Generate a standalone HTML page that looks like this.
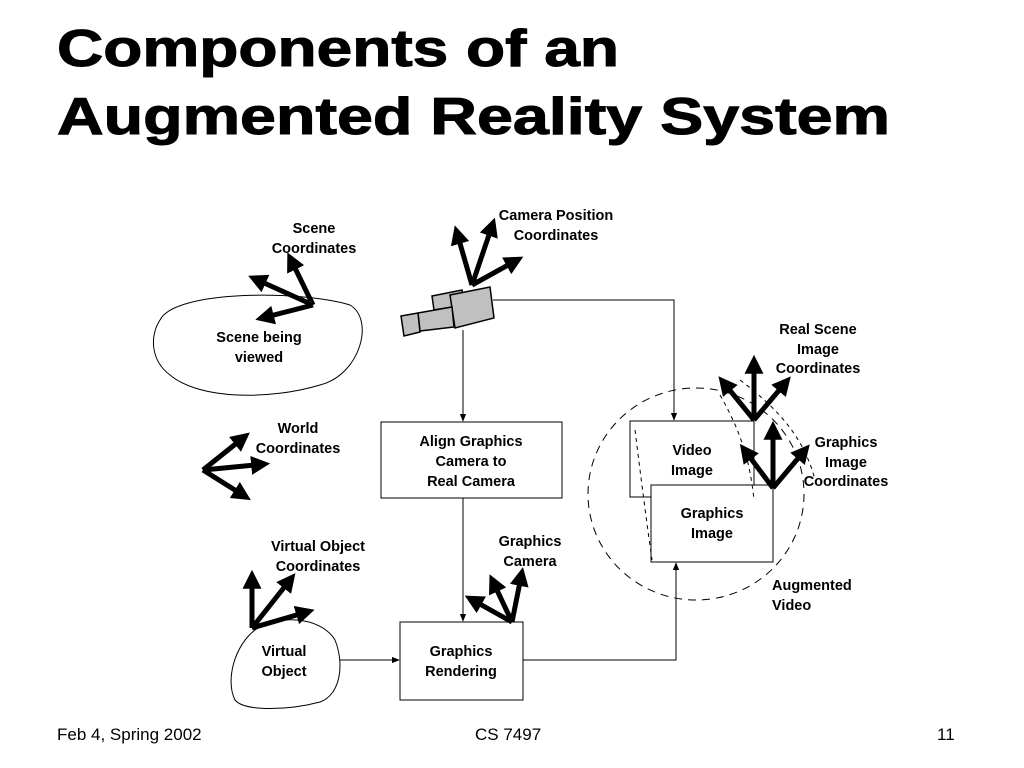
<!DOCTYPE html>
<html><head><style>
body{margin:0;background:#fff;width:1024px;height:768px;overflow:hidden}
svg{display:block}
.t{font-family:"Liberation Sans",Arial,sans-serif;font-weight:bold;font-size:14.5px;fill:#000;text-anchor:middle}
</style></head><body>
<svg width="1024" height="768" viewBox="0 0 1024 768" xmlns="http://www.w3.org/2000/svg">
<defs>
<marker id="h" viewBox="0 0 10 10" refX="2" refY="5" markerWidth="3.8" markerHeight="3.8" orient="auto" markerUnits="strokeWidth"><path d="M0,0 L10,5 L0,10z" fill="#000"/></marker>
<marker id="s" viewBox="0 0 10 10" refX="9" refY="5" markerWidth="8" markerHeight="8" orient="auto" markerUnits="userSpaceOnUse"><path d="M0,1 L10,5 L0,9z" fill="#000"/></marker>
</defs>
<text x="57" y="66" font-family="Liberation Sans,Arial,sans-serif" font-weight="bold" font-size="52" stroke="#000" stroke-width="1" textLength="562" lengthAdjust="spacingAndGlyphs">Components of an</text>
<text x="57" y="134" font-family="Liberation Sans,Arial,sans-serif" font-weight="bold" font-size="52" stroke="#000" stroke-width="1" textLength="833" lengthAdjust="spacingAndGlyphs">Augmented Reality System</text>

<g fill="none" stroke="#000" stroke-width="1">
<path d="M160,320 C175,290 300,290 350,305 C375,320 360,375 320,385 C270,400 200,400 170,375 C150,360 150,335 160,320Z"/>
<path d="M255,630 C275,615 320,615 335,640 C345,665 340,695 320,702 C290,710 245,712 235,700 C225,680 235,645 255,630Z"/>
<rect x="381" y="422" width="181" height="76"/>
<rect x="400" y="622" width="123" height="78"/>
<rect x="630" y="421" width="124" height="76" fill="#fff"/>
<rect x="651" y="485" width="122" height="77" fill="#fff"/>
<path d="M463,330 V421" marker-end="url(#s)"/>
<path d="M493,300 H674 V420" marker-end="url(#s)"/>
<path d="M463,498 V621" marker-end="url(#s)"/>
<path d="M340,660 H399" marker-end="url(#s)"/>
<path d="M523,660 H676 V563" marker-end="url(#s)"/>
<ellipse cx="696" cy="494" rx="108" ry="106" stroke-dasharray="8,6"/>
<path d="M635,430 C640,470 645,510 652,560 M720,395 C740,430 750,460 754,500 M740,380 C780,410 805,440 815,480" stroke-dasharray="4,4"/>
</g>

<g stroke="#000" stroke-width="5" fill="none" marker-end="url(#h)">
<path d="M313,305 L294,266"/><path d="M313,305 L262,282"/><path d="M313,305 L270,316"/>
<path d="M472,285 L459,240"/><path d="M472,285 L490,232"/><path d="M472,285 L510,264"/>
<path d="M203,470 L238,442"/><path d="M203,470 L255,465"/><path d="M203,470 L238,492"/>
<path d="M252,628 L252,585"/><path d="M252,628 L286,585"/><path d="M252,628 L300,614"/>
<path d="M512,622 L496,588"/><path d="M512,622 L520,582"/><path d="M512,622 L478,603"/>
<path d="M754,420 L754,370"/><path d="M754,420 L728,388"/><path d="M754,420 L781,388"/>
<path d="M773,488 L773,436"/><path d="M773,488 L749,456"/><path d="M773,488 L800,456"/>
</g>

<g stroke="#000" stroke-width="1.5" fill="#c0c0c0">
<polygon points="432,296 462,290 464,305 434,310"/>
<polygon points="450,295 490,287 494,318 455,328"/>
<polygon points="418,313 452,307 454,327 420,331"/>
<polygon points="401,316 418,313 420,332 404,336"/>
</g>

<g class="t">
<text x="314" y="233">Scene</text><text x="314" y="253">Coordinates</text>
<text x="556" y="220">Camera Position</text><text x="556" y="240">Coordinates</text>
<text x="259" y="342">Scene being</text><text x="259" y="362">viewed</text>
<text x="298" y="433">World</text><text x="298" y="453">Coordinates</text>
<text x="471" y="446">Align Graphics</text><text x="471" y="466">Camera to</text><text x="471" y="486">Real Camera</text>
<text x="692" y="455">Video</text><text x="692" y="475">Image</text>
<text x="712" y="518">Graphics</text><text x="712" y="538">Image</text>
<text x="818" y="334">Real Scene</text><text x="818" y="354">Image</text><text x="818" y="373">Coordinates</text>
<text x="846" y="447">Graphics</text><text x="846" y="467">Image</text><text x="846" y="486">Coordinates</text>
<text x="318" y="551">Virtual Object</text><text x="318" y="571">Coordinates</text>
<text x="530" y="546">Graphics</text><text x="530" y="566">Camera</text>
<text x="284" y="656">Virtual</text><text x="284" y="676">Object</text>
<text x="461" y="656">Graphics</text><text x="461" y="676">Rendering</text>
<text x="772" y="590" text-anchor="start">Augmented</text><text x="772" y="610" text-anchor="start">Video</text>
</g>

<g font-family="Liberation Sans,Arial,sans-serif" font-size="17" fill="#000">
<text x="57" y="740">Feb 4, Spring 2002</text>
<text x="475" y="740">CS 7497</text>
<text x="937" y="740">11</text>
</g>
</svg>
</body></html>
